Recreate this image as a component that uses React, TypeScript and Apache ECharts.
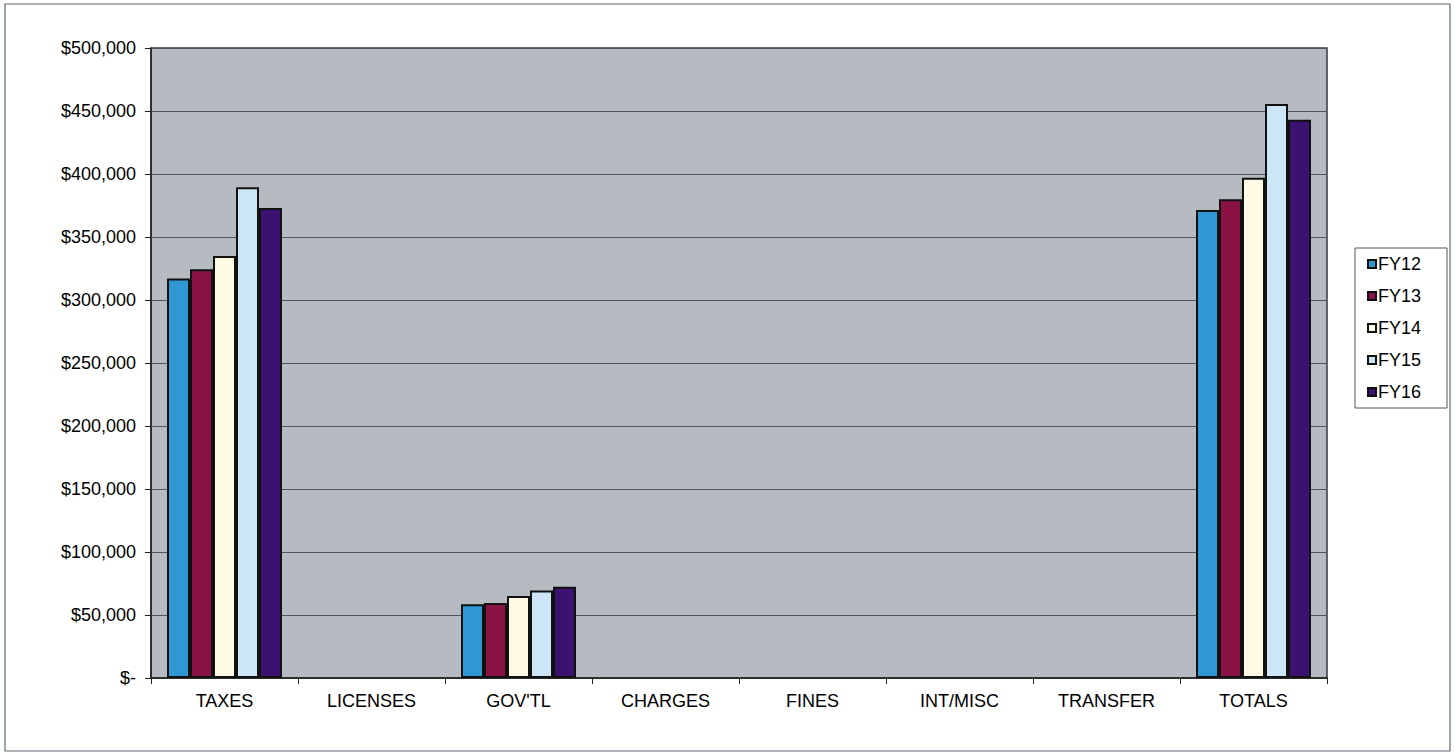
import React, { useEffect, useRef } from "react";
import * as echarts from "echarts";

const categories = ["TAXES", "LICENSES", "GOV'TL", "CHARGES", "FINES", "INT/MISC", "TRANSFER", "TOTALS"];
const seriesNames = ["FY12", "FY13", "FY14", "FY15", "FY16"];
const fy12 = [317000, 0, 58500, 0, 0, 0, 0, 371500];
const fy13 = [324500, 0, 59500, 0, 0, 0, 0, 380000];
const fy14 = [335000, 0, 65000, 0, 0, 0, 0, 397000];
const fy15 = [389500, 0, 69500, 0, 0, 0, 0, 455500];
const fy16 = [373000, 0, 72500, 0, 0, 0, 0, 443000];
const seriesValues = [fy12, fy13, fy14, fy15, fy16];
const seriesColors = ["#2f97d3", "#8a1245", "#fffbe4", "#cde6f7", "#3b1272"];

const font = "Liberation Sans, Arial, sans-serif";

export default function App() {
  const ref = useRef<HTMLDivElement>(null);

  useEffect(() => {
    if (!ref.current) return;
    const chart = echarts.init(ref.current, undefined, { renderer: "svg" });
    chart.setOption({
      animation: false,
      backgroundColor: "#ffffff",
      textStyle: { fontFamily: font },
      graphic: [
        {
          type: "rect",
          shape: { x: 5, y: 4, width: 1445, height: 747 },
          style: { fill: "none", stroke: "#5a6a74", lineWidth: 1.2 },
          silent: true,
        },
      ],
      grid: {
        left: 151,
        right: 127,
        top: 48,
        bottom: 77,
        show: true,
        backgroundColor: "#b6bac1",
        borderColor: "#333a40",
        borderWidth: 1.5,
      },
      legend: {
        orient: "vertical",
        left: 1355,
        top: 248,
        itemWidth: 8,
        itemHeight: 8,
        itemGap: 14,
        padding: [7, 26, 7, 12],
        borderColor: "#555",
        borderWidth: 1,
        backgroundColor: "#ffffff",
        textStyle: { fontSize: 18, color: "#000", fontFamily: font, padding: [0, 0, 0, -3], lineHeight: 18 },
        data: seriesNames.map((n) => ({ name: n, icon: "rect" })),
      },
      xAxis: {
        type: "category",
        data: categories,
        axisLine: { lineStyle: { color: "#222", width: 1.5 } },
        axisTick: { show: true, length: 6, lineStyle: { color: "#222" } },
        axisLabel: { fontSize: 18, color: "#000", margin: 14, fontFamily: font },
      },
      yAxis: {
        type: "value",
        min: 0,
        max: 500000,
        interval: 50000,
        axisLine: { show: true, lineStyle: { color: "#222", width: 1.5 } },
        axisTick: { show: true, length: 6, lineStyle: { color: "#222" } },
        axisLabel: {
          fontSize: 18,
          color: "#000",
          margin: 15,
          fontFamily: font,
          formatter: (v: number) => (v === 0 ? "$-" : "$" + v.toLocaleString("en-US")),
        },
        splitLine: { lineStyle: { color: "#50565c", width: 1 } },
      },
      series: seriesNames.map((name, i) => ({
        name,
        type: "bar",
        // zero amounts have no visible bar
        data: seriesValues[i].map((v) => (v === 0 ? null : v)),
        barWidth: 23,
        barGap: "0%",
        itemStyle: { color: seriesColors[i], borderColor: "#111", borderWidth: 2 },
      })),
    });
    return () => chart.dispose();
  }, []);

  return (
    <div
      ref={ref}
      style={{ position: "fixed", left: 0, top: 0, width: 1454, height: 755 }}
    />
  );
}
